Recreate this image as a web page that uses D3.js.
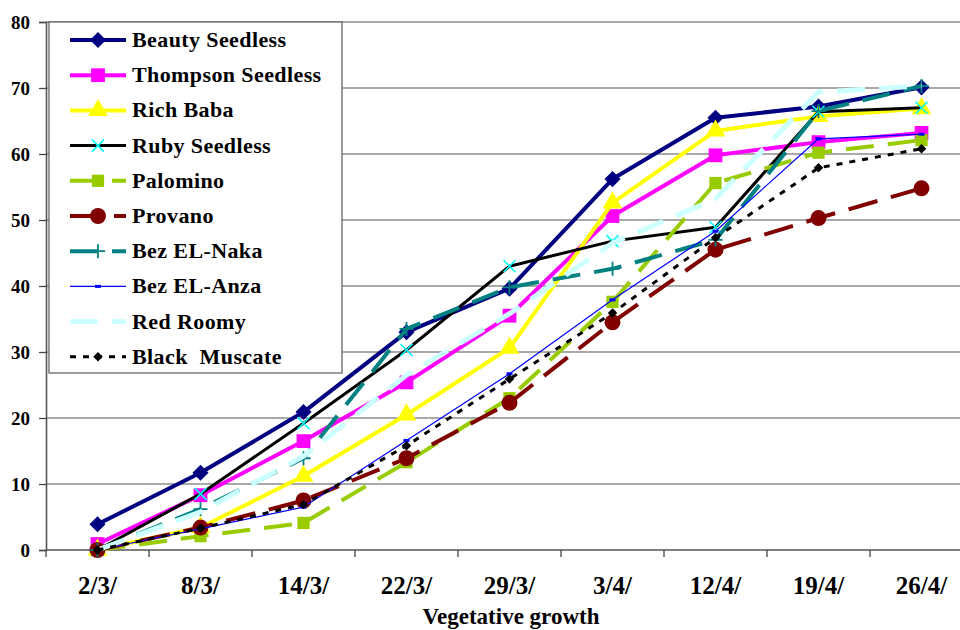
<!DOCTYPE html>
<html><head><meta charset="utf-8">
<script src="https://cdnjs.cloudflare.com/ajax/libs/d3/7.8.5/d3.min.js"></script>
<style>body{margin:0;background:#fff;}svg{display:block;}</style>
</head><body><svg id="c" width="960" height="630"></svg>
<script>
const categories = ["2/3/","8/3/","14/3/","22/3/","29/3/","3/4/","12/4/","19/4/","26/4/"];
const yTicks = [0,10,20,30,40,50,60,70,80];
const xTitle = "Vegetative growth";
const seriesNames = ["Beauty Seedless","Thompson Seedless","Rich Baba","Ruby Seedless","Palomino","Provano","Bez EL-Naka","Bez EL-Anza","Red Roomy","Black  Muscate"];
const beauty   = [3.9, 11.7, 20.9, 33.0, 39.6, 56.2, 65.5, 67.2, 70.1];
const thompson = [0.9, 8.3, 16.5, 25.4, 35.5, 50.6, 59.8, 61.8, 63.2];
const richBaba = [0.0, 3.4, 11.2, 20.5, 30.6, 52.6, 63.5, 65.7, 66.9];
const ruby     = [0.0, 8.5, 19.2, 30.3, 43.0, 46.8, 48.9, 66.4, 67.0];
const palomino = [0.0, 2.1, 4.1, 13.3, 23.0, 37.6, 55.6, 60.2, 62.1];
const provano  = [0.0, 3.4, 7.5, 13.9, 22.3, 34.5, 45.5, 50.3, 54.8];
const bezNaka  = [0.0, 6.2, 13.9, 33.5, 39.8, 42.6, 47.0, 66.5, 70.3];
const bezAnza  = [0.0, 3.2, 6.5, 16.6, 26.7, 37.9, 48.3, 62.3, 63.0];
const redRoomy = [0.0, 5.8, 14.2, 26.5, 35.8, 46.5, 53.2, 69.4, 70.3];
const blackMus = [0.0, 3.3, 6.9, 15.8, 25.9, 35.9, 47.3, 57.9, 60.8];
const values = [beauty, thompson, richBaba, ruby, palomino, provano, bezNaka, bezAnza, redRoomy, blackMus];

const styles = [
  {color:"#000080", w:4, dash:null, marker:"diamond", mc:"#000080", ms:130},
  {color:"#FF00FF", w:4, dash:null, marker:"square", mc:"#FF00FF", ms:190},
  {color:"#FFFF00", w:4, dash:null, marker:"triangle", mc:"#FFFF00", ms:170},
  {color:"#000000", w:3, dash:null, marker:"x", mc:"#00FFFF", ms:0},
  {color:"#99CC00", w:4, dash:"28,14", marker:"square", mc:"#99CC00", ms:150},
  {color:"#800000", w:4, dash:"30,14", marker:"circle", mc:"#800000", ms:200},
  {color:"#008080", w:4, dash:"28,14", marker:"plus", mc:"#008080", ms:0},
  {color:"#0000FF", w:1.2, dash:null, marker:"bar", mc:"#0000FF", ms:0},
  {color:"#CCFFFF", w:5, dash:"28,14", marker:null, mc:null, ms:0},
  {color:"#000000", w:3, dash:"6,7", marker:"diamond", mc:"#000000", ms:45}
];
const FONT = '"Liberation Serif"';

const svg = d3.select("#c");
const pLeft = 46, pRight = 973, pTop = 22, pBottom = 550;
const x = d3.scaleBand().domain(categories).range([pLeft, pRight]).padding(0);
const y = d3.scaleLinear().domain([0, 80]).range([pBottom, pTop]);
const cx = d => x(d) + x.bandwidth()/2;

// gridlines
svg.append("g").selectAll("line").data(yTicks.slice(1)).join("line")
  .attr("x1", pLeft).attr("x2", 960).attr("y1", d=>y(d)).attr("y2", d=>y(d))
  .attr("stroke", "#8c8c8c").attr("stroke-width", 1.3);

// y axis
const yAxis = svg.append("g").attr("transform", `translate(${pLeft},0)`)
  .call(d3.axisLeft(y).tickValues(yTicks).tickSize(7).tickPadding(9));
yAxis.select(".domain").attr("stroke", "#555").attr("stroke-width", 1.6);
yAxis.selectAll(".tick line").attr("stroke", "#444").attr("stroke-width", 1.3);
yAxis.selectAll("text").style("font-family", FONT).style("font-weight", "bold")
  .style("font-size", "19px").attr("fill", "#000").attr("dy", "0.32em");

// x axis
const xAxis = svg.append("g").attr("transform", `translate(0,${pBottom})`)
  .call(d3.axisBottom(x).tickSize(0).tickPadding(26));
xAxis.select(".domain").attr("stroke", "#555").attr("stroke-width", 1.6).attr("d", `M${pLeft},0H960`);
xAxis.selectAll("text").style("font-family", FONT).style("font-weight", "bold")
  .style("font-size", "25px").attr("fill", "#000");
// tick marks at band boundaries
svg.append("g").selectAll("line").data(categories).join("line")
  .attr("x1", d=>x(d)).attr("x2", d=>x(d)).attr("y1", pBottom).attr("y2", pBottom+7)
  .attr("stroke", "#444").attr("stroke-width", 1.3);

svg.append("text").attr("x", 511).attr("y", 624).attr("text-anchor", "middle")
  .style("font-family", FONT).style("font-weight", "bold").style("font-size", "23px").text(xTitle);

function drawMarker(g, st, px, py) {
  if (!st.marker) return;
  if (st.marker === "x") {
    const s = 6;
    g.append("path").attr("d", `M${px-s},${py-s}L${px+s},${py+s}M${px-s},${py+s}L${px+s},${py-s}`)
      .attr("stroke", st.mc).attr("stroke-width", 1.6).attr("fill", "none");
  } else if (st.marker === "plus") {
    const s = 7;
    g.append("path").attr("d", `M${px-s},${py}L${px+s},${py}M${px},${py-s}L${px},${py+s}`)
      .attr("stroke", st.mc).attr("stroke-width", 1.8).attr("fill", "none");
  } else if (st.marker === "bar") {
    g.append("rect").attr("x", px-3).attr("y", py-1.5).attr("width", 6).attr("height", 3).attr("fill", st.mc);
  } else if (st.marker === "diamond") {
    g.append("path").attr("d", d3.symbol().type(d3.symbolSquare).size(st.ms)())
      .attr("transform", `translate(${px},${py}) rotate(45)`).attr("fill", st.mc);
  } else {
    const map = {square: d3.symbolSquare, triangle: d3.symbolTriangle, circle: d3.symbolCircle};
    g.append("path").attr("d", d3.symbol().type(map[st.marker]).size(st.ms)())
      .attr("transform", `translate(${px},${py})`).attr("fill", st.mc);
  }
}

const line = d3.line().x((d,i)=>cx(categories[i])).y(d=>y(d));
values.forEach((vals, si) => {
  const st = styles[si];
  const g = svg.append("g");
  g.append("path").datum(vals).attr("d", line).attr("fill", "none")
    .attr("stroke", st.color).attr("stroke-width", st.w)
    .attr("stroke-dasharray", st.dash).attr("stroke-linejoin", "round");
  vals.forEach((v, i) => drawMarker(g, st, cx(categories[i]), y(v)));
});

// legend
const lg = svg.append("g");
lg.append("rect").attr("x", 49).attr("y", 22).attr("width", 293).attr("height", 351)
  .attr("fill", "#fff").attr("stroke", "#666").attr("stroke-width", 1.3);
seriesNames.forEach((name, i) => {
  const st = styles[i];
  const ly = 40 + i*35.2;
  const g = lg.append("g");
  g.append("line").attr("x1", 70).attr("x2", 126).attr("y1", ly).attr("y2", ly)
    .attr("stroke", st.color).attr("stroke-width", st.w)
    .attr("stroke-dasharray", st.dash);
  drawMarker(g, st, 98, ly);
  g.append("text").attr("x", 132).attr("y", ly + 7)
    .style("font-family", FONT).style("font-weight", "bold").style("font-size", "22px")
    .style("letter-spacing", "0.4px").style("white-space", "pre")
    .attr("fill", "#000").text(name);
});
</script></body></html>
